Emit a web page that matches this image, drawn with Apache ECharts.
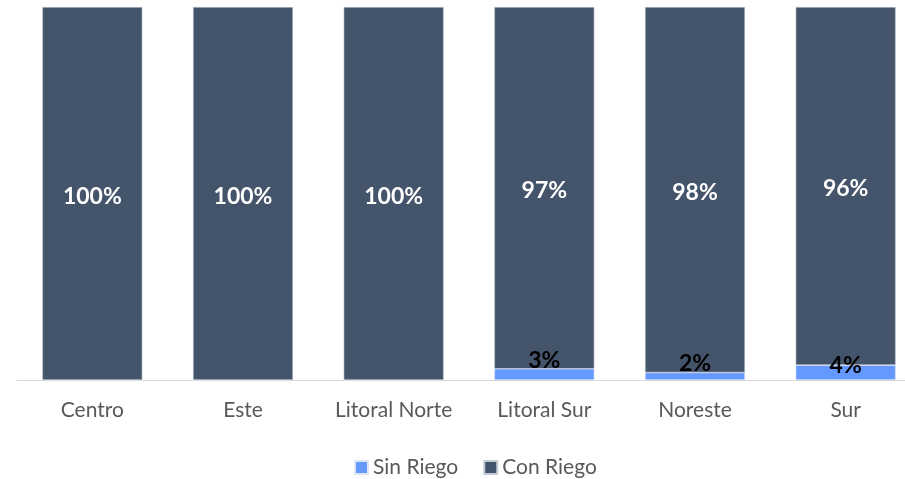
<!DOCTYPE html>
<html>
<head>
<meta charset="utf-8">
<script src="https://cdn.jsdelivr.net/npm/echarts@6/dist/echarts.min.js"></script>
<style>
  html, body { margin: 0; padding: 0; background: #ffffff; overflow: hidden; }
  #chart { width: 921px; height: 479px; }
</style>
</head>
<body>
<div id="chart"></div>
<script>
// Regions and share of irrigated vs. non-irrigated area (%)
const regiones = ['Centro', 'Este', 'Litoral Norte', 'Litoral Sur', 'Noreste', 'Sur'];
const sinRiego = [0, 0, 0, 3, 2, 4];
const conRiego = [100, 100, 100, 97, 98, 96];
// vertical nudge of the small "Sin Riego" labels
const sinRiegoLabelShift = [0, 0, 0, 6, 6, 15];

const FONT = 'Lato';
const chart = echarts.init(document.getElementById('chart'), null, { renderer: 'canvas' });

chart.setOption({
  animation: false,
  textStyle: { fontFamily: FONT },
  grid: { left: 17, right: 0, top: 7, bottom: 99, containLabel: false },
  xAxis: {
    type: 'category',
    data: regiones,
    axisLine: { show: true, lineStyle: { color: '#d9d9d9', width: 1 } },
    axisTick: { show: false },
    axisLabel: { color: '#595959', fontSize: 21, margin: 20, interval: 0, fontFamily: FONT }
  },
  yAxis: {
    type: 'value', min: 0, max: 100, show: false,
    splitLine: { show: false }
  },
  legend: {
    top: 452,
    left: 349,
    itemWidth: 13, itemHeight: 13, itemGap: 25,
    icon: 'rect',
    textStyle: { color: '#595959', fontSize: 21, fontFamily: FONT },
    data: ['Sin Riego', 'Con Riego']
  },
  series: [
    {
      name: 'Sin Riego',
      type: 'bar',
      stack: 'total',
      barWidth: '66.4%',
      itemStyle: { color: '#6699ff', borderColor: '#dfe6f5', borderWidth: 0.6 },
      data: sinRiego.map((v, i) => ({
        value: v,
        label: {
          show: v > 0,
          position: 'top',
          distance: 3,
          offset: [0, sinRiegoLabelShift[i]],
          formatter: '{c}%',
          color: '#000000',
          fontWeight: 'bold',
          fontSize: 23,
          fontFamily: FONT
        }
      }))
    },
    {
      name: 'Con Riego',
      type: 'bar',
      stack: 'total',
      barWidth: '66.4%',
      itemStyle: { color: '#44546a', borderColor: '#c5ccd6', borderWidth: 0.6 },
      label: {
        show: true,
        position: 'inside',
        formatter: '{c}%',
        color: '#ffffff',
        fontWeight: 'bold',
        fontSize: 23,
        fontFamily: FONT,
        offset: [0, 3]
      },
      data: conRiego
    }
  ]
});
</script>
</body>
</html>
